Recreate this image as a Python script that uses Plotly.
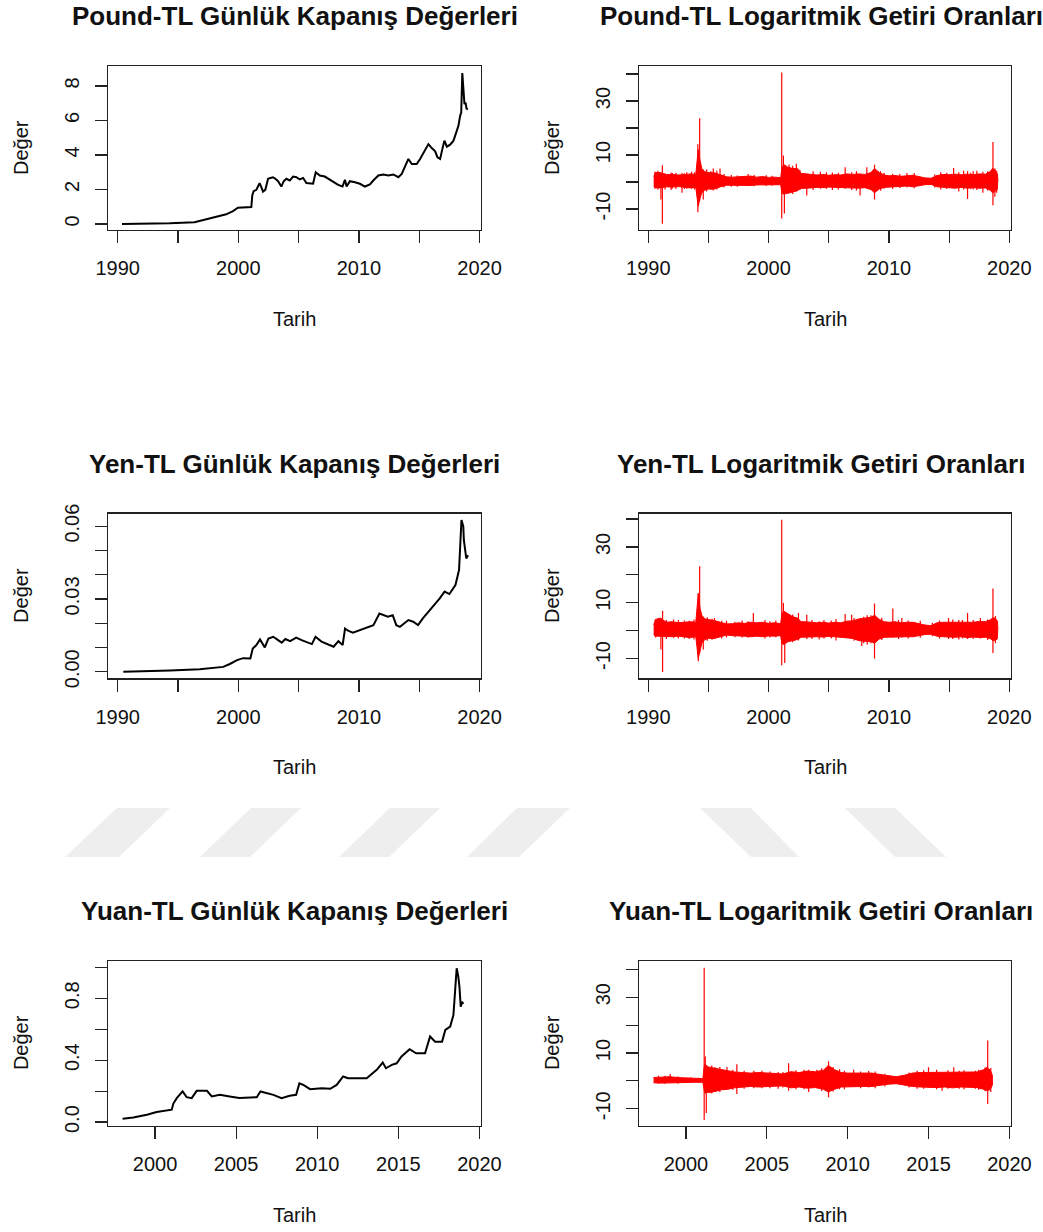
import plotly.graph_objects as go

W, H = 1043, 1232

# ---------------- data ----------------
pound_year = [1990.36, 1994.29, 1994.32, 1996.37, 1996.79, 1997.89, 1998.45, 1999.0, 1999.56, 1999.97,
              2001.08, 2001.16, 2001.27, 2001.5, 2001.63, 2001.77, 2001.91, 2002.05, 2002.24, 2002.47,
              2002.66, 2002.88, 2003.07, 2003.3, 2003.57, 2003.77, 2003.99, 2004.27, 2004.54, 2004.82,
              2005.1, 2005.37, 2005.65, 2006.2, 2006.42, 2006.76, 2007.17, 2007.59, 2008.0, 2008.28,
              2008.64, 2008.84, 2008.98, 2009.25, 2009.67, 2010.08, 2010.5, 2010.91, 2011.19, 2011.61,
              2012.02, 2012.44, 2012.85, 2013.27, 2013.55, 2013.82, 2014.1, 2014.38, 2014.79, 2015.07,
              2015.48, 2015.76, 2016.04, 2016.32, 2016.51, 2016.73, 2016.95, 2017.09, 2017.29, 2017.56,
              2017.84, 2018.06, 2018.25, 2018.39, 2018.48, 2018.57, 2018.67, 2018.75, 2018.84, 2018.92,
              2019.03]
pound_value = [0.0, 0.0, 0.04, 0.1, 0.17, 0.35, 0.46, 0.56, 0.75, 0.94,
               0.98, 1.65, 1.9, 1.98, 2.17, 2.37, 2.13, 1.88, 1.98, 2.62,
               2.67, 2.71, 2.62, 2.48, 2.17, 2.48, 2.62, 2.52, 2.75, 2.71,
               2.58, 2.67, 2.37, 2.33, 3.0, 2.81, 2.75, 2.56, 2.42, 2.27,
               2.17, 2.56, 2.17, 2.48, 2.42, 2.33, 2.17, 2.29, 2.52, 2.81,
               2.87, 2.81, 2.87, 2.71, 2.9, 3.29, 3.77, 3.48, 3.48, 3.77,
               4.25, 4.63, 4.4, 4.21, 3.87, 3.77, 4.44, 4.83, 4.48, 4.6,
               4.83, 5.3, 5.69, 6.27, 6.46, 8.75, 8.0, 6.94, 7.04, 6.69,
               6.65]

yen_year = [1990.47, 1994.3, 1994.35, 1996.8, 1997.9, 1998.75, 1999.3, 1999.9, 2000.4, 2001.0,
            2001.2, 2001.5, 2001.8, 2002.2, 2002.5, 2002.9, 2003.3, 2003.6, 2003.9, 2004.3,
            2004.8, 2005.25, 2006.1, 2006.4, 2006.9, 2007.6, 2007.9, 2008.3, 2008.65, 2008.85,
            2009.1, 2009.5, 2010.1, 2010.6, 2011.2, 2011.7, 2012.0, 2012.4, 2012.8, 2013.1,
            2013.4, 2013.8, 2014.1, 2014.5, 2014.9, 2015.3, 2015.9, 2016.3, 2016.7, 2017.1,
            2017.5, 2018.0, 2018.3, 2018.5, 2018.65, 2018.7, 2018.8, 2018.9, 2019.05]
yen_value = [0.0, 0.0003, 0.0005, 0.001, 0.0015, 0.002, 0.0032, 0.0048, 0.0056, 0.0055,
             0.0096, 0.011, 0.0133, 0.01, 0.0137, 0.0144, 0.013, 0.012, 0.0135, 0.0126,
             0.0141, 0.013, 0.0114, 0.0144, 0.0124, 0.011, 0.0103, 0.0126, 0.011, 0.0178,
             0.0169, 0.0161, 0.0172, 0.0178, 0.0192, 0.024, 0.0233, 0.0227, 0.0233, 0.0192,
             0.0185, 0.0202, 0.0213, 0.0206, 0.0192, 0.022, 0.0254, 0.0275, 0.0302, 0.033,
             0.032, 0.0357, 0.0419, 0.0625, 0.06, 0.0542, 0.0501, 0.0467, 0.048]

yuan_year = [1998.0, 1998.66, 1999.5, 2000.1, 2001.03, 2001.13, 2001.34, 2001.7, 2001.95, 2002.26,
             2002.57, 2003.2, 2003.5, 2004.0, 2004.6, 2005.2, 2006.27, 2006.5, 2007.3, 2007.8,
             2008.3, 2008.7, 2008.9, 2009.15, 2009.56, 2010.28, 2010.8, 2011.2, 2011.6, 2011.9,
             2013.05, 2013.67, 2014.04, 2014.24, 2014.6, 2014.9, 2015.2, 2015.7, 2016.1, 2016.65,
             2016.96, 2017.27, 2017.7, 2017.9, 2018.2, 2018.4, 2018.6, 2018.7, 2018.77, 2018.85,
             2018.93, 2019.0]
yuan_value = [0.0215, 0.03, 0.047, 0.065, 0.08, 0.12, 0.155, 0.198, 0.161, 0.155,
              0.202, 0.202, 0.166, 0.176, 0.166, 0.155, 0.161, 0.198, 0.176, 0.155,
              0.17, 0.176, 0.25, 0.24, 0.213, 0.219, 0.215, 0.24, 0.295, 0.284,
              0.284, 0.338, 0.385, 0.348, 0.37, 0.38, 0.424, 0.471, 0.445, 0.445,
              0.553, 0.52, 0.52, 0.596, 0.617, 0.692, 0.994, 0.94, 0.875, 0.746,
              0.778, 0.763]

# log-return series: visible upper / lower envelope of the dense band
band_year_90 = [1990.45, 1990.6, 1991.0, 1991.5, 1992.0, 1992.5, 1993.0, 1993.5, 1993.95, 1994.05,
                1994.15, 1994.3, 1994.45, 1994.7, 1995.0, 1995.5, 1996.0, 1996.5, 1997.0, 1997.5,
                1998.0, 1998.5, 1999.0, 1999.5, 2000.0, 2000.5, 2001.0, 2001.1, 2001.25, 2001.6,
                2002.0, 2002.4, 2002.7, 2003.0, 2003.5, 2004.0, 2004.5, 2005.0, 2005.5, 2006.0,
                2006.5, 2007.0, 2007.5, 2008.0, 2008.5, 2008.8, 2009.2, 2009.6, 2010.0, 2010.5,
                2011.0, 2011.5, 2012.0, 2012.5, 2013.0, 2013.5, 2014.0, 2014.5, 2015.0, 2015.5,
                2016.0, 2016.5, 2017.0, 2017.5, 2018.0, 2018.4, 2018.6, 2018.8, 2019.0, 2019.05]
pound_band_high = [2.0, 3.5, 3.5, 2.7, 2.8, 2.6, 2.7, 3.0, 2.8, 8.0,
                   12.0, 8.0, 5.0, 3.8, 3.5, 3.4, 2.6, 1.9, 1.8, 2.0,
                   2.0, 2.2, 1.8, 2.0, 1.7, 1.8, 1.6, 5.0, 6.5, 5.5,
                   5.0, 5.0, 3.2, 3.0, 2.8, 2.6, 2.8, 2.5, 2.7, 2.6,
                   3.0, 2.8, 3.0, 2.8, 3.5, 5.0, 3.5, 2.6, 2.3, 2.4,
                   2.1, 2.3, 2.5, 2.0, 1.5, 1.4, 2.4, 2.8, 2.7, 2.9,
                   2.7, 2.9, 2.7, 3.0, 2.9, 3.8, 5.0, 4.5, 3.0, 1.0]
pound_band_low = [-1.5, -2.2, -2.2, -1.8, -1.9, -1.7, -1.9, -2.2, -2.0, -5.0,
                  -9.0, -6.0, -4.0, -3.0, -2.6, -2.6, -1.8, -1.2, -1.1, -1.2,
                  -1.3, -1.3, -1.1, -1.2, -1.0, -1.0, -1.0, -4.0, -4.5, -4.2,
                  -3.8, -3.2, -2.4, -2.2, -2.2, -2.0, -2.1, -1.9, -2.0, -2.0,
                  -2.3, -2.2, -2.3, -2.1, -2.8, -4.0, -2.6, -2.0, -1.7, -1.6,
                  -1.6, -1.5, -1.8, -1.4, -1.0, -0.9, -1.8, -2.0, -2.1, -2.3,
                  -2.0, -2.3, -2.1, -2.3, -2.2, -3.0, -4.0, -3.5, -2.8, -1.0]
pound_spike_year = [1990.8, 1991.05, 1991.17, 1991.9, 1992.3, 1992.8, 1993.2, 1993.6, 1994.12, 1994.27,
                    1994.57, 1995.4, 1995.96, 1996.9, 1998.3, 1999.8, 2001.09, 2001.23, 2001.31, 2001.7,
                    2002.3, 2003.17, 2003.7, 2004.3, 2005.3, 2006.36, 2007.6, 2008.16, 2008.8, 2009.6,
                    2011.5, 2012.1, 2014.3, 2015.37, 2016.53, 2017.3, 2017.8, 2018.64,
                    1990.55, 1991.4, 1992.0, 1993.0, 1993.85, 1994.85, 1995.2, 1995.7, 1996.3, 1997.4,
                    1998.8, 2000.3, 2002.0, 2002.6, 2004.8, 2005.8, 2006.9, 2007.3, 2009.3, 2010.3,
                    2010.9, 2013.8, 2014.8, 2015.8, 2016.2, 2016.8, 2017.0, 2018.2, 2018.8, 2018.95]
pound_spike_high = [4.2, 2.0, 6.2, 3.5, 3.4, 3.3, 3.6, 3.8, 14.0, 23.6,
                    4.5, 5.0, 5.0, 2.6, 3.0, 2.5, 40.6, 9.8, 4.0, 6.5,
                    6.8, 3.0, 4.0, 3.8, 3.5, 5.5, 3.0, 5.5, 6.4, 3.4,
                    3.3, 3.3, 3.6, 5.2, 4.0, 4.2, 3.8, 14.8,
                    3.8, 3.2, 3.3, 3.2, 3.6, 4.6, 4.0, 4.2, 3.0, 2.4,
                    2.6, 2.3, 6.0, 4.5, 3.6, 3.4, 3.6, 4.0, 4.0, 3.0,
                    3.0, 2.8, 3.4, 3.6, 4.2, 3.4, 4.0, 4.0, 5.0, 4.2]
pound_spike_low = [-2.8, -6.5, -15.5, -3.0, -2.6, -4.0, -2.5, -2.5, -11.2, -7.0,
                   -6.5, -3.2, -1.8, -1.8, -1.5, -1.5, -13.5, -4.5, -11.7, -4.0,
                   -3.5, -5.0, -3.0, -2.5, -3.0, -2.5, -5.0, -2.3, -6.5, -2.5,
                   -2.0, -2.3, -2.8, -2.2, -6.3, -3.0, -4.0, -8.6,
                   -2.5, -2.8, -2.4, -2.6, -2.8, -3.5, -3.0, -2.8, -2.0, -1.8,
                   -1.6, -1.4, -4.5, -3.0, -2.6, -2.8, -3.0, -3.2, -3.2, -2.6,
                   -2.2, -2.0, -2.6, -3.5, -2.8, -2.6, -2.8, -3.2, -5.5, -4.0]

yen_band_high = [2.0, 4.0, 4.5, 3.0, 3.2, 2.8, 3.0, 3.2, 3.0, 8.0,
                 13.0, 8.0, 5.5, 4.2, 4.0, 3.6, 3.0, 2.4, 2.5, 2.8,
                 2.6, 3.0, 2.8, 3.0, 2.6, 2.8, 2.5, 6.0, 7.0, 6.0,
                 5.0, 4.5, 3.2, 3.2, 3.0, 2.8, 3.0, 2.7, 3.0, 2.8,
                 3.4, 3.5, 4.2, 4.5, 4.8, 5.5, 4.0, 3.2, 3.0, 3.2,
                 2.8, 3.0, 3.0, 2.5, 2.0, 1.8, 2.8, 3.0, 3.0, 3.2,
                 3.0, 3.2, 3.0, 3.3, 3.2, 3.8, 4.5, 4.5, 3.5, 1.0]
yen_band_low = [-1.5, -2.0, -2.0, -2.0, -2.2, -2.0, -2.2, -2.5, -2.2, -6.0,
                -10.0, -7.0, -4.5, -3.2, -2.8, -2.8, -2.2, -1.6, -1.8, -2.0,
                -2.0, -2.2, -2.0, -2.2, -1.9, -2.0, -1.8, -4.5, -5.0, -4.0,
                -3.5, -3.2, -2.4, -2.4, -2.3, -2.2, -2.3, -2.1, -2.2, -2.2,
                -2.6, -2.8, -3.6, -3.8, -4.0, -4.5, -3.0, -2.4, -2.2, -2.4,
                -2.2, -2.2, -2.2, -1.8, -1.4, -1.3, -2.0, -2.2, -2.4, -2.4,
                -2.2, -2.5, -2.3, -2.5, -2.4, -2.8, -3.5, -3.5, -3.0, -1.0]
yen_spike_year = [1991.05, 1991.19, 1992.5, 1993.4, 1994.16, 1994.27, 1994.57, 1995.5, 1996.5, 1998.73,
                  1999.7, 2001.09, 2001.23, 2001.34, 2002.48, 2003.17, 2004.6, 2005.6, 2006.36, 2006.9,
                  2007.74, 2008.2, 2008.8, 2010.32, 2011.07, 2012.6, 2014.95, 2015.8, 2016.53, 2017.6,
                  2018.64,
                  1990.6, 1991.5, 1992.1, 1993.0, 1993.8, 1994.9, 1995.3, 1996.1, 1997.2, 1997.8,
                  1998.3, 2000.1, 2000.6, 2002.0, 2003.6, 2004.2, 2005.2, 2007.1, 2007.9, 2008.5,
                  2009.4, 2010.8, 2011.6, 2013.6, 2014.2, 2015.3, 2016.1, 2017.0, 2018.2, 2018.85]
yen_spike_high = [2.5, 7.0, 3.8, 3.5, 13.5, 23.1, 4.5, 4.5, 3.5, 6.3,
                  3.8, 39.8, 9.9, 4.0, 6.3, 5.7, 3.8, 4.2, 6.0, 5.7,
                  4.0, 5.5, 9.7, 7.9, 4.5, 3.5, 4.5, 3.8, 6.3, 4.5,
                  15.1,
                  4.2, 3.8, 4.0, 3.6, 4.0, 4.8, 4.3, 3.5, 3.2, 3.6,
                  3.4, 3.4, 3.6, 5.8, 3.8, 3.4, 3.6, 4.5, 5.0, 5.5,
                  4.6, 3.8, 3.6, 2.8, 3.6, 4.0, 3.8, 3.8, 4.0, 5.2]
yen_spike_low = [-6.8, -14.8, -2.8, -3.0, -11.0, -8.0, -6.8, -3.0, -2.5, -2.0,
                 -2.8, -12.4, -5.0, -11.6, -3.5, -3.0, -2.8, -3.5, -2.5, -3.0,
                 -5.5, -5.0, -10.0, -2.5, -2.5, -2.6, -3.0, -3.2, -3.0, -2.8,
                 -8.0,
                 -2.5, -3.0, -2.6, -2.8, -3.2, -3.6, -3.3, -2.8, -2.4, -2.5,
                 -2.6, -2.5, -2.4, -4.2, -3.0, -3.2, -2.8, -3.6, -4.5, -4.5,
                 -3.4, -3.0, -2.8, -2.0, -2.8, -3.0, -2.8, -3.0, -3.4, -4.5]

band_year_98 = [1998.0, 1998.5, 1999.0, 1999.5, 2000.0, 2000.5, 2001.05, 2001.15, 2001.4, 2001.8,
                2002.2, 2002.6, 2003.0, 2003.5, 2004.0, 2004.5, 2005.0, 2005.5, 2006.0, 2006.5,
                2007.0, 2007.5, 2008.0, 2008.5, 2008.8, 2009.2, 2009.6, 2010.0, 2010.5, 2011.0,
                2011.5, 2012.0, 2012.5, 2013.0, 2013.5, 2014.0, 2014.5, 2015.0, 2015.5, 2016.0,
                2016.5, 2017.0, 2017.5, 2018.0, 2018.4, 2018.6, 2018.8, 2018.95]
yuan_band_high = [1.2, 1.4, 1.5, 1.2, 1.0, 0.8, 0.8, 6.0, 5.0, 4.5,
                  4.0, 3.5, 3.2, 3.0, 2.8, 3.0, 2.8, 2.6, 2.5, 3.3,
                  3.0, 3.5, 3.3, 3.8, 5.5, 4.0, 3.0, 2.8, 2.8, 2.6,
                  2.8, 2.3, 1.8, 1.5, 2.0, 2.8, 3.0, 3.0, 3.2, 3.0,
                  3.2, 3.0, 3.2, 3.2, 4.0, 4.8, 4.0, 2.0]
yuan_band_low = [-0.7, -0.8, -0.8, -0.7, -0.6, -0.5, -0.5, -4.0, -4.2, -3.8,
                 -3.2, -3.0, -2.5, -2.2, -2.0, -2.2, -2.0, -1.9, -1.8, -2.5,
                 -2.2, -2.6, -2.4, -3.0, -4.0, -3.0, -2.2, -2.0, -2.0, -2.0,
                 -2.0, -1.6, -1.2, -1.0, -1.5, -2.0, -2.2, -2.4, -2.4, -2.2,
                 -2.5, -2.2, -2.4, -2.4, -3.0, -3.5, -3.2, -1.5]
yuan_spike_year = [1998.3, 1999.03, 2000.3, 2001.13, 2001.2, 2001.26, 2001.8, 2002.54, 2003.15, 2004.2,
                   2005.7, 2006.35, 2007.59, 2008.1, 2008.82, 2009.8, 2010.37, 2011.3, 2014.3, 2015.0,
                   2015.84, 2016.56, 2017.2, 2017.9, 2018.66,
                   1998.7, 1999.5, 2000.8, 2001.6, 2002.1, 2002.9, 2003.6, 2004.7, 2005.2, 2006.0,
                   2006.8, 2007.3, 2008.4, 2009.1, 2009.5, 2010.8, 2011.7, 2012.3, 2013.8, 2014.7,
                   2015.5, 2016.2, 2016.9, 2018.1, 2018.5, 2018.85]
yuan_spike_high = [1.8, 2.5, 1.3, 40.6, 8.7, 3.0, 5.0, 5.0, 6.0, 3.6,
                   3.2, 6.3, 4.0, 4.0, 7.0, 3.6, 4.0, 3.5, 3.6, 4.9,
                   2.5, 4.9, 3.8, 3.6, 14.5,
                   1.8, 1.6, 1.1, 5.5, 5.0, 4.0, 3.6, 3.6, 3.4, 3.2,
                   3.8, 4.0, 4.5, 5.0, 4.2, 3.4, 3.4, 2.6, 3.0, 3.8,
                   4.0, 3.8, 3.6, 4.0, 4.8, 4.6]
yuan_spike_low = [-1.0, -0.8, -0.8, -14.0, -4.5, -11.5, -4.0, -3.0, -4.7, -2.6,
                  -2.8, -3.5, -4.0, -2.5, -5.9, -3.0, -2.0, -2.4, -2.8, -2.5,
                  -3.5, -2.0, -3.0, -2.8, -8.3,
                  -1.0, -1.0, -0.8, -4.5, -4.0, -3.2, -2.8, -2.6, -2.6, -2.4,
                  -3.0, -3.0, -3.6, -3.8, -3.0, -2.6, -2.6, -2.0, -2.4, -2.8,
                  -3.0, -2.8, -2.8, -3.2, -3.6, -4.0]

# titles and tick labels
titles = ["Pound-TL Günlük Kapanış Değerleri", "Pound-TL Logaritmik Getiri Oranları",
          "Yen-TL Günlük Kapanış Değerleri", "Yen-TL Logaritmik Getiri Oranları",
          "Yuan-TL Günlük Kapanış Değerleri", "Yuan-TL Logaritmik Getiri Oranları"]
x_title = "Tarih"
y_title = "Değer"
year_ticks_90 = [1990, 1995, 2000, 2005, 2010, 2015, 2020]
year_labels_90 = ["1990", "", "2000", "", "2010", "", "2020"]
year_ticks_98 = [2000, 2005, 2010, 2015, 2020]
year_labels_98 = ["2000", "2005", "2010", "2015", "2020"]
pound_ticks = [0, 2, 4, 6, 8]
pound_labels = ["0", "2", "4", "6", "8"]
yen_ticks = [0.0, 0.01, 0.02, 0.03, 0.04, 0.05, 0.06]
yen_labels = ["0.00", "", "", "0.03", "", "", "0.06"]
yuan_ticks = [0.0, 0.2, 0.4, 0.6, 0.8, 1.0]
yuan_labels = ["0.0", "", "0.4", "", "0.8", ""]
ret_ticks = [-10, 0, 10, 20, 30, 40]
ret_labels = ["-10", "", "10", "", "30", ""]

# ---------------- layout geometry (pixels) ----------------
col_x = [(108, 481), (639, 1011)]
row_y = [(66, 230), (513.5, 678.3), (960.7, 1125.5)]
title_shift = [0, -4]   # keep the long right-hand titles inside the page

FONT = "Liberation Sans, Arial, sans-serif"


def px_x(x):
    return x / W


def px_y(y):
    return 1 - y / H


fig = go.Figure()

panels = [
    dict(kind="price", x=pound_year, y=pound_value, xr=[1989.2, 2020.12], yr=[-0.35, 9.16],
         xt=year_ticks_90, xl=year_labels_90, yt=pound_ticks, yl=pound_labels),
    dict(kind="ret", bx=band_year_90, bh=pound_band_high, bl=pound_band_low,
         sx=pound_spike_year, sh=pound_spike_high, sl=pound_spike_low,
         xr=[1989.23, 2020.14], yr=[-17.8, 43.0],
         xt=year_ticks_90, xl=year_labels_90, yt=ret_ticks, yl=ret_labels),
    dict(kind="price", x=yen_year, y=yen_value, xr=[1989.2, 2020.12], yr=[-0.0027, 0.0652],
         xt=year_ticks_90, xl=year_labels_90, yt=yen_ticks, yl=yen_labels),
    dict(kind="ret", bx=band_year_90, bh=yen_band_high, bl=yen_band_low,
         sx=yen_spike_year, sh=yen_spike_high, sl=yen_spike_low,
         xr=[1989.23, 2020.14], yr=[-17.1, 42.0],
         xt=year_ticks_90, xl=year_labels_90, yt=ret_ticks, yl=ret_labels),
    dict(kind="price", x=yuan_year, y=yuan_value, xr=[1997.1, 2020.1], yr=[-0.022, 1.043],
         xt=year_ticks_98, xl=year_labels_98, yt=yuan_ticks, yl=yuan_labels),
    dict(kind="ret", bx=band_year_98, bh=yuan_band_high, bl=yuan_band_low,
         sx=yuan_spike_year, sh=yuan_spike_high, sl=yuan_spike_low,
         xr=[1997.1, 2020.1], yr=[-16.0, 43.1],
         xt=year_ticks_98, xl=year_labels_98, yt=ret_ticks, yl=ret_labels),
]

annotations = []
layout_axes = {}

for i, p in enumerate(panels):
    r, c = divmod(i, 2)
    n = i + 1
    xa = "x" if n == 1 else f"x{n}"
    ya = "y" if n == 1 else f"y{n}"
    x0, x1 = col_x[c]
    y0, y1 = row_y[r]

    if p["kind"] == "price":
        fig.add_trace(go.Scatter(x=p["x"], y=p["y"], mode="lines",
                                 line=dict(color="black", width=2.0),
                                 xaxis=xa, yaxis=ya, hoverinfo="skip", showlegend=False))
    else:
        px_ = list(p["bx"]) + list(p["bx"])[::-1]
        py_ = list(p["bh"]) + list(p["bl"])[::-1]
        fig.add_trace(go.Scatter(x=px_, y=py_, mode="lines", fill="toself",
                                 fillcolor="#FF0000", line=dict(color="#FF0000", width=1),
                                 xaxis=xa, yaxis=ya, hoverinfo="skip", showlegend=False))
        sxs, sys_ = [], []
        for t, hi, lo in zip(p["sx"], p["sh"], p["sl"], strict=True):
            sxs += [t, t, None]
            sys_ += [lo, hi, None]
        fig.add_trace(go.Scatter(x=sxs, y=sys_, mode="lines",
                                 line=dict(color="#FF0000", width=1.2),
                                 xaxis=xa, yaxis=ya, hoverinfo="skip", showlegend=False))

    common = dict(showline=True, linecolor="#222", linewidth=1.2, mirror=True,
                  ticks="outside", ticklen=12, tickwidth=1.2, tickcolor="#222",
                  showgrid=False, zeroline=False, automargin=False, fixedrange=True,
                  tickfont=dict(family=FONT, size=20, color="#111"))
    layout_axes["xaxis" if n == 1 else f"xaxis{n}"] = dict(
        common, domain=[px_x(x0), px_x(x1)], range=p["xr"], anchor=ya,
        tickmode="array", tickvals=p["xt"], ticktext=p["xl"], ticklabelstandoff=8)
    layout_axes["yaxis" if n == 1 else f"yaxis{n}"] = dict(
        common, domain=[px_y(y1), px_y(y0)], range=p["yr"], anchor=xa,
        tickmode="array", tickvals=p["yt"], ticktext=p["yl"], tickangle=-90,
        ticklabelstandoff=8)

    cx = (x0 + x1) / 2
    annotations.append(dict(text=f"<b>{titles[i]}</b>", x=px_x(cx + title_shift[c]),
                            y=px_y(y0 - 50),
                            xref="paper", yref="paper", showarrow=False,
                            xanchor="center", yanchor="middle",
                            font=dict(family=FONT, size=26, color="#111")))
    annotations.append(dict(text=x_title, x=px_x(cx), y=px_y(y1 + 89),
                            xref="paper", yref="paper", showarrow=False,
                            xanchor="center", yanchor="middle",
                            font=dict(family=FONT, size=20, color="#111")))
    annotations.append(dict(text=y_title, x=px_x(x0 - 87), y=px_y((y0 + y1) / 2),
                            xref="paper", yref="paper", showarrow=False, textangle=-90,
                            xanchor="center", yanchor="middle",
                            font=dict(family=FONT, size=20, color="#111")))

# background watermark stripes (decorative)
stripes = [
    [(65, 857), (119, 857), (170, 808), (117, 808)],
    [(200, 857), (250, 857), (301, 808), (251, 808)],
    [(339, 857), (389, 857), (440, 808), (390, 808)],
    [(467, 857), (519, 857), (570, 808), (517, 808)],
    [(700, 808), (751, 808), (799, 857), (751, 857)],
    [(845, 808), (895, 808), (946, 857), (895, 857)],
]
shapes = []
for poly in stripes:
    path = "M " + " L ".join(f"{px_x(x):.5f},{px_y(y):.5f}" for x, y in poly) + " Z"
    shapes.append(dict(type="path", path=path, xref="paper", yref="paper",
                       fillcolor="#EEEEEE", line=dict(width=0), layer="below"))

fig.update_layout(
    width=W, height=H, margin=dict(l=0, r=0, t=0, b=0, autoexpand=False),
    paper_bgcolor="white", plot_bgcolor="rgba(0,0,0,0)",
    annotations=annotations, shapes=shapes, showlegend=False, hovermode=False,
    **layout_axes,
)

fig.write_html("out.html",
               config={"displayModeBar": False, "staticPlot": True},
               post_script="document.body.style.margin='0';document.body.style.overflow='hidden';")
